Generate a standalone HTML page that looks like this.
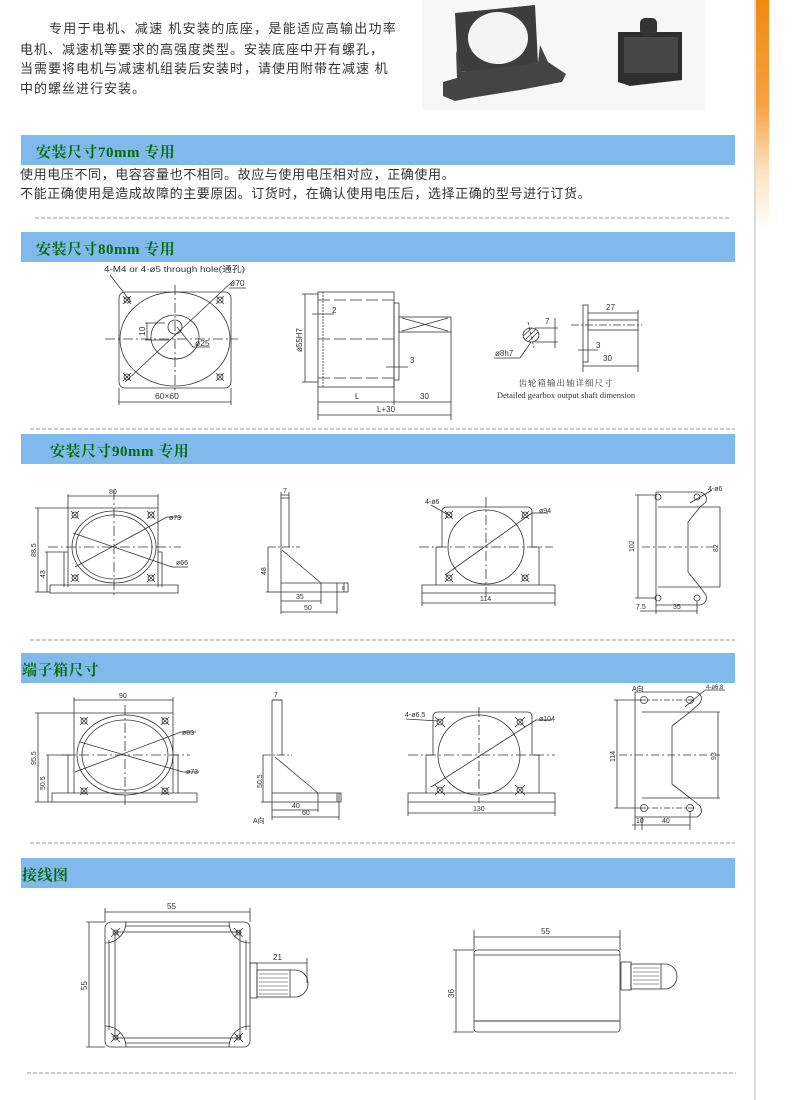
<!DOCTYPE html>
<html><head><meta charset="utf-8">
<style>
html,body{margin:0;padding:0;background:#fff;}
body{width:800px;height:1100px;position:relative;overflow:hidden;font-family:"Liberation Sans","Noto Sans CJK SC",sans-serif;}
.p{position:absolute;white-space:nowrap;color:#333;font-size:13px;line-height:16px;}
.bar{position:absolute;left:21px;width:714px;height:30px;background:#80b9ec;}
.bar span{position:absolute;top:6px;font-size:15px;font-weight:bold;color:#0a6a0a;font-family:"Liberation Serif","Noto Serif CJK SC",serif;letter-spacing:0.5px;}
svg{position:absolute;left:0;top:0;}
</style></head><body>
<div style="position:absolute;left:754px;top:0;width:2px;height:1100px;background:#ddd"></div>
<div style="position:absolute;left:756px;top:0;width:13px;height:230px;background:linear-gradient(#f08a10 0%,#f7a040 45%,#fde4c0 75%,#fff 100%)"></div>

<div class="p" style="left:49px;top:21px;letter-spacing:1.3px">专用于电机、减速 机安装的底座，是能适应高输出功率</div>
<div class="p" style="left:20px;top:42px;letter-spacing:1px">电机、减速机等要求的高强度类型。安装底座中开有螺孔，</div>
<div class="p" style="left:20px;top:61px;letter-spacing:1px">当需要将电机与减速机组装后安装时，请使用附带在减速 机</div>
<div class="p" style="left:20px;top:81px;letter-spacing:1px">中的螺丝进行安装。</div>

<div class="bar" style="top:135px"><span style="left:15px">安装尺寸70mm 专用</span></div>
<div class="p" style="left:20px;top:167px;letter-spacing:0.6px">使用电压不同，电容容量也不相同。故应与使用电压相对应，正确使用。</div>
<div class="p" style="left:20px;top:186px;letter-spacing:0.6px">不能正确使用是造成故障的主要原因。订货时，在确认使用电压后，选择正确的型号进行订货。</div>
<div class="bar" style="top:232px"><span style="left:15px">安装尺寸80mm 专用</span></div>
<div class="bar" style="top:434px"><span style="left:29px">安装尺寸90mm 专用</span></div>
<div class="bar" style="top:653px"><span style="left:1px">端子箱尺寸</span></div>
<div class="bar" style="top:858px"><span style="left:1px">接线图</span></div>

<svg width="800" height="1100" viewBox="0 0 800 1100" font-family="Liberation Sans, Noto Sans CJK SC, sans-serif" fill="none" stroke="#333" stroke-width="0.8">
<!-- photos -->
<rect x="422" y="0" width="283" height="110" fill="#f7f7f7" stroke="none"/>
<polygon points="455,13 535,5 538,63 500,70 458,72" fill="#3d3d3d" stroke="none"/>
<ellipse cx="498" cy="38" rx="30" ry="26" fill="#f4f4f4" stroke="none"/>
<polygon points="456,50 462,72 538,63 540,45 548,62 566,74 562,82 520,90 470,98 455,101 443,96 443,82 457,78" fill="#444" stroke="none"/>
<polygon points="618,32 682,32 682,80 630,86 618,82" fill="#2e2e2e" stroke="none"/>
<rect x="624" y="37" width="54" height="36" fill="#474747" stroke="none"/>
<rect x="640" y="18" width="17" height="18" rx="5" fill="#333" stroke="none"/>

<!-- separators -->
<g stroke="#999" stroke-dasharray="4,2" stroke-width="1">
<line x1="35" y1="218" x2="730" y2="218"/>
<line x1="30" y1="429" x2="735" y2="429"/>
<line x1="30" y1="640" x2="735" y2="640"/>
<line x1="30" y1="843" x2="735" y2="843"/>
<line x1="27" y1="1073" x2="736" y2="1073"/>
</g>

<!-- 80mm front -->
<rect x="119" y="292" width="112" height="96" rx="6"/>
<ellipse cx="175" cy="339" rx="55" ry="47"/>
<ellipse cx="175" cy="337" rx="24" ry="22"/>
<ellipse cx="175" cy="327" rx="7" ry="7"/>
<g stroke-dasharray="10,3,2,3"><line x1="105" y1="339" x2="238" y2="339"/><line x1="175" y1="285" x2="175" y2="395"/></g>
<line x1="125" y1="382" x2="234" y2="280"/><line x1="229" y1="288" x2="246" y2="288"/>
<line x1="110" y1="275" x2="131" y2="302"/>
<line x1="177" y1="327" x2="193" y2="347"/><line x1="193" y1="347" x2="210" y2="347"/>
<line x1="147" y1="323" x2="147" y2="340"/><line x1="145" y1="323" x2="165" y2="323"/><line x1="145" y1="340" x2="170" y2="340"/>
<g>
<circle cx="127" cy="300" r="3"/><line x1="123" y1="296" x2="131" y2="304"/><line x1="131" y1="296" x2="123" y2="304"/>
<circle cx="220" cy="300" r="3"/><line x1="216" y1="296" x2="224" y2="304"/><line x1="224" y1="296" x2="216" y2="304"/>
<circle cx="127" cy="377" r="3"/><line x1="123" y1="373" x2="131" y2="381"/><line x1="131" y1="373" x2="123" y2="381"/>
<circle cx="220" cy="377" r="3"/><line x1="216" y1="373" x2="224" y2="381"/><line x1="224" y1="373" x2="216" y2="381"/>
</g>
<line x1="119" y1="388" x2="119" y2="405"/><line x1="231" y1="388" x2="231" y2="405"/><line x1="119" y1="402" x2="231" y2="402"/>
<g fill="#333" stroke="none" font-size="8.5">
<text x="104" y="272" textLength="141" lengthAdjust="spacingAndGlyphs">4-M4 or 4-ø5 through hole(通孔)</text>
<text x="230" y="286">ø70</text>
<text x="195" y="346">ø25</text>
<text x="155" y="399">60×60</text>
<text transform="translate(145,336) rotate(-90)">10</text>
</g>

<!-- 80mm motor side -->
<rect x="318" y="292" width="76" height="95"/>
<line x1="323" y1="292" x2="323" y2="387" stroke-dasharray="2,1"/>
<g stroke-dasharray="12,4"><line x1="318" y1="300" x2="394" y2="300"/><line x1="318" y1="339" x2="394" y2="339"/><line x1="318" y1="378" x2="394" y2="378"/></g>
<rect x="394" y="303" width="5" height="77"/>
<rect x="399" y="317" width="52" height="15"/>
<line x1="402" y1="318" x2="448" y2="331"/><line x1="402" y1="331" x2="448" y2="318"/>
<line x1="305" y1="294" x2="305" y2="382"/><line x1="302" y1="294" x2="318" y2="294"/><line x1="302" y1="382" x2="318" y2="382"/>
<line x1="312" y1="314" x2="334" y2="314"/><line x1="386" y1="367" x2="408" y2="367"/>
<line x1="318" y1="387" x2="318" y2="420"/><line x1="394" y1="380" x2="394" y2="405"/><line x1="451" y1="332" x2="451" y2="420"/>
<line x1="318" y1="402" x2="451" y2="402"/><line x1="318" y1="415" x2="451" y2="415"/>
<g fill="#333" stroke="none" font-size="8">
<text transform="translate(302,352) rotate(-90)">ø55H7</text>
<text x="332" y="313">2</text><text x="410" y="363">3</text>
<text x="355" y="399">L</text><text x="420" y="399">30</text><text x="377" y="412">L+30</text>
</g>

<!-- shaft detail -->
<ellipse cx="531" cy="335" rx="8" ry="7"/>
<line x1="525" y1="340" x2="536" y2="329"/><line x1="528" y1="342" x2="538" y2="332"/><line x1="523" y1="336" x2="532" y2="328"/>
<line x1="528" y1="322" x2="534" y2="348" stroke-dasharray="3,2"/>
<line x1="555" y1="318" x2="555" y2="348"/><line x1="535" y1="328" x2="558" y2="328"/><line x1="535" y1="342" x2="558" y2="342"/>
<line x1="531" y1="342" x2="520" y2="358"/><line x1="520" y1="358" x2="494" y2="358"/>
<rect x="583" y="305" width="5" height="57"/>
<rect x="588" y="320" width="50" height="10"/>
<line x1="571" y1="325" x2="642" y2="325" stroke-dasharray="8,2,2,2"/>
<line x1="638" y1="310" x2="638" y2="320"/><line x1="588" y1="313" x2="638" y2="313"/>
<line x1="578" y1="350" x2="598" y2="350"/>
<line x1="583" y1="362" x2="583" y2="372"/><line x1="638" y1="330" x2="638" y2="372"/><line x1="583" y1="366" x2="638" y2="366"/>
<g fill="#333" stroke="none" font-size="8">
<text x="545" y="324">7</text><text x="495" y="356">ø8h7</text>
<text x="606" y="310">27</text><text x="596" y="348">3</text><text x="603" y="361">30</text>
</g>
<g fill="#333" stroke="none" font-family="Liberation Serif, Noto Serif CJK SC, serif" font-size="8.5" text-anchor="middle">
<text x="566" y="386" letter-spacing="1">齿轮箱输出轴详细尺寸</text>
<text x="566" y="398">Detailed gearbox output shaft dimension</text>
</g>

<!-- 90mm front -->
<path d="M68,587 V508 H158 V587 M64,587 V552 H68 M158,552 H162 V587 M50,585 H178 V593 H50 Z"/>
<ellipse cx="114" cy="547" rx="42" ry="36"/><ellipse cx="114" cy="547" rx="38" ry="32"/>
<g stroke-dasharray="10,3,2,3"><line x1="48" y1="547" x2="181" y2="547"/><line x1="114" y1="490" x2="114" y2="596"/></g>
<line x1="75" y1="567" x2="167" y2="517"/><line x1="167" y1="517" x2="182" y2="517"/>
<line x1="73" y1="533" x2="172" y2="567"/><line x1="172" y1="567" x2="188" y2="567"/>
<g>
<circle cx="75" cy="515" r="3"/><line x1="71" y1="511" x2="79" y2="519"/><line x1="79" y1="511" x2="71" y2="519"/>
<circle cx="151" cy="515" r="3"/><line x1="147" y1="511" x2="155" y2="519"/><line x1="155" y1="511" x2="147" y2="519"/>
<circle cx="75" cy="578" r="3"/><line x1="71" y1="574" x2="79" y2="582"/><line x1="79" y1="574" x2="71" y2="582"/>
<circle cx="151" cy="578" r="3"/><line x1="147" y1="574" x2="155" y2="582"/><line x1="155" y1="574" x2="147" y2="582"/>
</g>
<line x1="68" y1="496" x2="158" y2="496"/><line x1="68" y1="494" x2="68" y2="508"/><line x1="158" y1="494" x2="158" y2="508"/>
<line x1="38" y1="508" x2="38" y2="592"/><line x1="35" y1="508" x2="68" y2="508"/><line x1="35" y1="592" x2="50" y2="592"/>
<line x1="47" y1="552" x2="47" y2="592"/><line x1="45" y1="552" x2="64" y2="552"/>
<g fill="#333" stroke="none" font-size="7">
<text x="109" y="494">80</text><text x="169" y="520">ø73</text><text x="176" y="565">ø66</text>
<text transform="translate(36,557) rotate(-90)">88.5</text><text transform="translate(45,578) rotate(-90)">43</text>
</g>

<!-- 90 side -->
<path d="M281,498 H289 V547 M281,498 V592 M282,550 L321,583 M281,583 H348 V592 H281"/>
<line x1="268" y1="547" x2="300" y2="547" stroke-dasharray="8,2,2,2"/>
<line x1="281" y1="495" x2="289" y2="495"/><line x1="281" y1="492" x2="281" y2="498"/><line x1="289" y1="492" x2="289" y2="498"/>
<line x1="268" y1="547" x2="268" y2="592"/><line x1="266" y1="592" x2="281" y2="592"/>
<line x1="281" y1="592" x2="281" y2="614"/><line x1="321" y1="583" x2="321" y2="604"/><line x1="337" y1="583" x2="337" y2="614"/>
<line x1="281" y1="601" x2="321" y2="601"/><line x1="281" y1="612" x2="337" y2="612"/>
<line x1="344" y1="583" x2="344" y2="592"/>
<g fill="#333" stroke="none" font-size="7">
<text x="283" y="493">7</text><text transform="translate(266,575) rotate(-90)">48</text>
<text x="296" y="599">35</text><text x="304" y="610">50</text><text x="342" y="590" font-size="5">8</text>
</g>

<!-- 90 bracket front -->
<path d="M436,585 V547 H442 V512 Q442,507 447,507 H527 Q532,507 532,512 V547 H539 V585 M422,585 H555 V593 H422 Z"/>
<ellipse cx="486" cy="547" rx="38" ry="37"/>
<g stroke-dasharray="10,3,2,3"><line x1="419" y1="547" x2="553" y2="547"/><line x1="486" y1="497" x2="486" y2="597"/></g>
<line x1="445" y1="575" x2="532" y2="513"/><line x1="532" y1="513" x2="548" y2="513"/>
<line x1="431" y1="505" x2="452" y2="517"/>
<g>
<circle cx="449" cy="515" r="3"/><line x1="445" y1="511" x2="453" y2="519"/><line x1="453" y1="511" x2="445" y2="519"/>
<circle cx="525" cy="515" r="3"/><line x1="521" y1="511" x2="529" y2="519"/><line x1="529" y1="511" x2="521" y2="519"/>
<circle cx="449" cy="578" r="3"/><line x1="445" y1="574" x2="453" y2="582"/><line x1="453" y1="574" x2="445" y2="582"/>
<circle cx="525" cy="578" r="3"/><line x1="521" y1="574" x2="529" y2="582"/><line x1="529" y1="574" x2="521" y2="582"/>
</g>
<line x1="422" y1="593" x2="422" y2="606"/><line x1="555" y1="593" x2="555" y2="606"/><line x1="422" y1="603" x2="555" y2="603"/>
<g fill="#333" stroke="none" font-size="7">
<text x="425" y="504">4-ø6</text><text x="539" y="513">ø94</text><text x="480" y="601">114</text>
</g>

<!-- 90 top view -->
<path d="M656,492 H700 Q708,494 706,502 L700,507 M656,492 V605 H700 Q708,603 706,595 L700,587"/>
<path d="M658,507 H700 L688,522 V572 L700,587 H658"/>
<line x1="700" y1="507" x2="720" y2="507"/><line x1="700" y1="587" x2="720" y2="587"/>
<line x1="642" y1="547" x2="718" y2="547" stroke-dasharray="8,3,2,3"/>
<g>
<circle cx="658" cy="497" r="3"/><circle cx="697" cy="497" r="3"/><circle cx="658" cy="598" r="3"/><circle cx="697" cy="598" r="3"/>
<line x1="690" y1="503" x2="712" y2="490"/>
</g>
<line x1="638" y1="495" x2="638" y2="598"/><line x1="635" y1="495" x2="656" y2="495"/><line x1="635" y1="598" x2="656" y2="598"/>
<line x1="720" y1="507" x2="720" y2="587"/>
<line x1="656" y1="605" x2="656" y2="614"/><line x1="697" y1="601" x2="697" y2="614"/><line x1="640" y1="611" x2="697" y2="611"/>
<g fill="#333" stroke="none" font-size="7">
<text x="708" y="491">4-ø6</text>
<text transform="translate(634,552) rotate(-90)">102</text><text transform="translate(718,552) rotate(-90)">82</text>
<text x="636" y="609">7.5</text><text x="673" y="609">35</text>
</g>

<!-- 端子箱 front -->
<path d="M74,793 V713 H173 V793 M68,793 V755 H74 M173,755 H178 V793 M52,793 H197 V802 H52 Z"/>
<ellipse cx="125" cy="755" rx="48" ry="40"/><ellipse cx="125" cy="755" rx="43" ry="35"/>
<g stroke-dasharray="10,3,2,3"><line x1="61" y1="755" x2="190" y2="755"/><line x1="125" y1="705" x2="125" y2="805"/></g>
<line x1="75" y1="772" x2="181" y2="732"/><line x1="181" y1="732" x2="196" y2="732"/>
<line x1="80" y1="742" x2="183" y2="772"/><line x1="183" y1="772" x2="199" y2="772"/>
<g>
<circle cx="84" cy="721" r="3"/><line x1="80" y1="717" x2="88" y2="725"/><line x1="88" y1="717" x2="80" y2="725"/>
<circle cx="165" cy="721" r="3"/><line x1="161" y1="717" x2="169" y2="725"/><line x1="169" y1="717" x2="161" y2="725"/>
<circle cx="84" cy="791" r="3"/><line x1="80" y1="787" x2="88" y2="795"/><line x1="88" y1="787" x2="80" y2="795"/>
<circle cx="165" cy="791" r="3"/><line x1="161" y1="787" x2="169" y2="795"/><line x1="169" y1="787" x2="161" y2="795"/>
</g>
<line x1="74" y1="700" x2="173" y2="700"/><line x1="74" y1="697" x2="74" y2="713"/><line x1="173" y1="697" x2="173" y2="713"/>
<line x1="38" y1="713" x2="38" y2="802"/><line x1="35" y1="713" x2="74" y2="713"/><line x1="35" y1="802" x2="52" y2="802"/>
<line x1="48" y1="755" x2="48" y2="802"/><line x1="46" y1="755" x2="68" y2="755"/>
<g fill="#333" stroke="none" font-size="7">
<text x="119" y="698">90</text><text x="182" y="735">ø83</text><text x="186" y="774">ø73</text>
<text transform="translate(36,765) rotate(-90)">95.5</text><text transform="translate(45,790) rotate(-90)">50.5</text>
</g>

<!-- 端子箱 side -->
<path d="M272,700 H282 V755 M272,700 V802 M275,757 L318,793 M272,793 H341 V802 H272"/>
<line x1="263" y1="755" x2="292" y2="755" stroke-dasharray="8,2,2,2"/>
<line x1="272" y1="700" x2="282" y2="700"/>
<line x1="263" y1="755" x2="263" y2="802"/><line x1="261" y1="802" x2="272" y2="802"/>
<line x1="272" y1="802" x2="272" y2="820"/><line x1="318" y1="793" x2="318" y2="812"/><line x1="339" y1="793" x2="339" y2="820"/>
<line x1="272" y1="810" x2="318" y2="810"/><line x1="272" y1="817" x2="339" y2="817"/>
<line x1="337" y1="793" x2="337" y2="802"/>
<g fill="#333" stroke="none" font-size="7">
<text x="274" y="697">7</text><text transform="translate(262,788) rotate(-90)">50.5</text>
<text x="292" y="808">40</text><text x="302" y="815">60</text><text x="253" y="823">A向</text>
</g>

<!-- 端子箱 bracket front -->
<path d="M426,793 V755 H433 V717 Q433,712 438,712 H527 Q532,712 532,717 V755 H539 V793 M408,793 H555 V802 H408 Z"/>
<ellipse cx="479" cy="755" rx="41" ry="40"/>
<g stroke-dasharray="10,3,2,3"><line x1="408" y1="755" x2="555" y2="755"/><line x1="479" y1="707" x2="479" y2="803"/></g>
<line x1="431" y1="787" x2="536" y2="720"/><line x1="536" y1="720" x2="552" y2="720"/>
<line x1="406" y1="719" x2="438" y2="721"/>
<g>
<circle cx="440" cy="722" r="3"/><line x1="435" y1="717" x2="445" y2="727"/><line x1="445" y1="717" x2="435" y2="727"/>
<circle cx="520" cy="722" r="3"/><line x1="515" y1="717" x2="525" y2="727"/><line x1="525" y1="717" x2="515" y2="727"/>
<circle cx="440" cy="790" r="3"/><line x1="435" y1="785" x2="445" y2="795"/><line x1="445" y1="785" x2="435" y2="795"/>
<circle cx="520" cy="790" r="3"/><line x1="515" y1="785" x2="525" y2="795"/><line x1="525" y1="785" x2="515" y2="795"/>
</g>
<line x1="408" y1="802" x2="408" y2="816"/><line x1="555" y1="802" x2="555" y2="816"/><line x1="408" y1="813" x2="555" y2="813"/>
<g fill="#333" stroke="none" font-size="7">
<text x="405" y="717">4-ø6.5</text><text x="539" y="721">ø104</text><text x="473" y="811">130</text>
</g>

<!-- 端子箱 top view -->
<path d="M635,692 H697 Q704,696 700,703 L690,712 M635,692 V817 H697 Q704,813 700,806 L690,798"/>
<path d="M642,712 H690 L672,726 V784 L690,798 H642"/>
<line x1="690" y1="712" x2="720" y2="712"/><line x1="690" y1="798" x2="720" y2="798"/>
<line x1="619" y1="755" x2="720" y2="755" stroke-dasharray="8,3,2,3"/>
<line x1="640" y1="700" x2="696" y2="700" stroke-dasharray="6,2,2,2"/><line x1="640" y1="808" x2="696" y2="808" stroke-dasharray="6,2,2,2"/>
<circle cx="644" cy="700" r="3.5"/><circle cx="690" cy="700" r="3.5"/><circle cx="644" cy="808" r="3.5"/><circle cx="690" cy="808" r="3.5"/>
<line x1="685" y1="707" x2="705" y2="690"/><line x1="705" y1="690" x2="725" y2="690"/>
<line x1="617" y1="700" x2="617" y2="808"/><line x1="614" y1="700" x2="640" y2="700"/><line x1="614" y1="808" x2="640" y2="808"/>
<line x1="718" y1="712" x2="718" y2="798"/>
<line x1="635" y1="817" x2="635" y2="830"/><line x1="642" y1="817" x2="642" y2="830"/><line x1="690" y1="811" x2="690" y2="830"/><line x1="632" y1="825" x2="690" y2="825"/>
<g fill="#333" stroke="none" font-size="7">
<text x="632" y="691">A向</text><text x="706" y="689" font-size="6">4-ø6.8</text>
<text transform="translate(615,762) rotate(-90)">114</text><text transform="translate(716,760) rotate(-90)">93</text>
<text x="636" y="823">10</text><text x="662" y="823">40</text>
</g>

<!-- 接线图 left -->
<rect x="105" y="922" width="145" height="125" rx="6"/>
<rect x="115" y="932" width="125" height="106"/>
<line x1="125" y1="926" x2="230" y2="926"/><line x1="125" y1="1043" x2="230" y2="1043"/>
<line x1="109" y1="940" x2="109" y2="1030"/><line x1="246" y1="940" x2="246" y2="1030"/>
<path d="M105,943 A21,21 0 0 0 126,922 M250,943 A21,21 0 0 1 229,922 M105,1026 A21,21 0 0 1 126,1047 M250,1026 A21,21 0 0 0 229,1047"/>
<g>
<line x1="111" y1="928" x2="120" y2="937"/><line x1="120" y1="928" x2="111" y2="937"/><circle cx="115.5" cy="932.5" r="2.5"/>
<line x1="234" y1="928" x2="243" y2="937"/><line x1="243" y1="928" x2="234" y2="937"/><circle cx="238.5" cy="932.5" r="2.5"/>
<line x1="111" y1="1033" x2="120" y2="1042"/><line x1="120" y1="1033" x2="111" y2="1042"/><circle cx="115.5" cy="1037.5" r="2.5"/>
<line x1="234" y1="1033" x2="243" y2="1042"/><line x1="243" y1="1033" x2="234" y2="1042"/><circle cx="238.5" cy="1037.5" r="2.5"/>
</g>
<rect x="250" y="963" width="7" height="35"/>
<rect x="257" y="970" width="33" height="27"/>
<g stroke-width="0.6"><line x1="259" y1="974" x2="288" y2="974"/><line x1="259" y1="978" x2="288" y2="978"/><line x1="259" y1="982" x2="288" y2="982"/><line x1="259" y1="986" x2="288" y2="986"/><line x1="259" y1="990" x2="288" y2="990"/><line x1="259" y1="994" x2="288" y2="994"/></g>
<path d="M290,970 H295 A13,13.5 0 0 1 295,997 H290"/>
<line x1="105" y1="908" x2="105" y2="922"/><line x1="250" y1="908" x2="250" y2="922"/><line x1="105" y1="912" x2="250" y2="912"/>
<line x1="89" y1="922" x2="89" y2="1047"/><line x1="86" y1="922" x2="105" y2="922"/><line x1="86" y1="1047" x2="105" y2="1047"/>
<line x1="250" y1="963" x2="307" y2="963"/><line x1="307" y1="958" x2="307" y2="983"/>
<g fill="#333" stroke="none" font-size="8">
<text x="167" y="909">55</text><text x="273" y="960">21</text>
<text transform="translate(87,990) rotate(-90)">55</text>
</g>

<!-- 接线图 right -->
<rect x="474" y="950" width="146" height="82" rx="3"/>
<line x1="474" y1="955" x2="620" y2="955"/><line x1="474" y1="1021" x2="620" y2="1021" stroke="#777" stroke-width="1.5"/>
<rect x="621" y="962" width="10" height="28"/>
<rect x="631" y="964" width="30" height="25"/>
<g stroke-width="0.6"><line x1="633" y1="968" x2="659" y2="968"/><line x1="633" y1="972" x2="659" y2="972"/><line x1="633" y1="976" x2="659" y2="976"/><line x1="633" y1="980" x2="659" y2="980"/><line x1="633" y1="984" x2="659" y2="984"/></g>
<path d="M661,964 H665 A12,12.5 0 0 1 665,989 H661"/>
<line x1="474" y1="930" x2="474" y2="950"/><line x1="620" y1="930" x2="620" y2="950"/><line x1="474" y1="937" x2="620" y2="937"/>
<line x1="456" y1="950" x2="456" y2="1032"/><line x1="453" y1="950" x2="474" y2="950"/><line x1="453" y1="1032" x2="474" y2="1032"/>
<g fill="#333" stroke="none" font-size="8">
<text x="541" y="934">55</text>
<text transform="translate(454,998) rotate(-90)">36</text>
</g>
</svg>
</body></html>
